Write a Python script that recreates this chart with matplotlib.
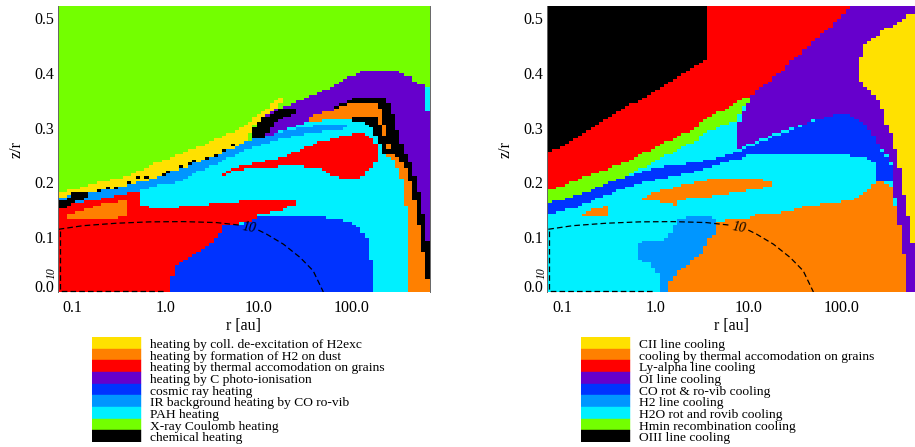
"""
Dominant heating (left) and cooling (right) process maps in r - z/r,
with the process legends underneath.
"""
import numpy as np
import matplotlib
matplotlib.use('Agg')
import matplotlib.pyplot as plt
from matplotlib.path import Path
from matplotlib.colors import ListedColormap, BoundaryNorm
from matplotlib.ticker import NullLocator
from matplotlib.transforms import ScaledTranslation

plt.rcParams['font.family'] = ['Liberation Serif', 'DejaVu Serif']

# ── process colours, same order in both legends ──
COLORS = ['#FFE100', '#FF8000', '#FF0000', '#6600CC', '#0033FF',
          '#0096FF', '#00F0FF', '#73FF00', '#000000']
YEL, ORA, RED, PUR, BLU, LBL, CYA, GRN, BLK = range(9)

heat_labels = ['heating by coll. de-excitation of H2exc',
               'heating by formation of H2 on dust',
               'heating by thermal accomodation on grains',
               'heating by C photo-ionisation',
               'cosmic ray heating',
               'IR background heating by CO ro-vib',
               'PAH heating',
               'X-ray Coulomb heating',
               'chemical heating']
cool_labels = ['CII line cooling',
               'cooling by thermal accomodation on grains',
               'Ly-alpha line cooling',
               'OI line cooling',
               'CO rot & ro-vib cooling',
               'H2 line cooling',
               'H2O rot and rovib cooling',
               'Hmin recombination cooling',
               'OIII line cooling']

ZMAX = 0.522
heat_logr_lim = (-1.157, 2.843)
cool_logr_lim = (-1.161, 2.789)

# ── heating regions, outlines in (log10 r [au], z/r) ──
heat_purple = [(1.00, 0.278), (1.09, 0.330), (1.32, 0.340), (1.56, 0.357), (1.77, 0.373),
               (1.95, 0.392), (2.17, 0.404), (2.47, 0.405), (2.63, 0.392), (2.74, 0.378),
               (2.90, 0.374), (2.90, -0.01), (1.00, -0.01)]
heat_cyan_edge = [(2.80, 0.374), (2.90, 0.374), (2.90, 0.330), (2.81, 0.330)]
heat_black_outer = [(1.81, 0.339), (1.95, 0.348), (2.09, 0.356), (2.38, 0.356), (2.44, 0.330),
                    (2.51, 0.287), (2.56, 0.257), (2.64, 0.236), (2.72, 0.190), (2.77, 0.145),
                    (2.81, 0.110), (2.83, 0.072), (2.86, 0.036), (2.90, -0.01), (1.81, -0.01)]
heat_orange_arc = [(1.56, 0.321), (1.81, 0.333), (1.99, 0.344), (2.27, 0.344), (2.33, 0.327),
                   (2.37, 0.290), (2.42, 0.257), (2.50, 0.245), (2.59, 0.224), (2.66, 0.187),
                   (2.70, 0.145), (2.75, 0.108), (2.78, 0.066), (2.80, 0.030), (2.85, 0.018),
                   (2.90, -0.01), (1.56, -0.01)]
heat_black_inner = [(2.00, 0.322), (2.13, 0.322), (2.27, 0.318), (2.33, 0.300), (2.37, 0.275),
                    (2.42, 0.250), (2.36, 0.248), (2.31, 0.270), (2.24, 0.296), (2.13, 0.310),
                    (2.00, 0.313)]
heat_cyan_disk = [(-0.28, 0.186), (-0.17, 0.205), (0.01, 0.215), (0.19, 0.227), (0.37, 0.238),
                  (0.55, 0.249), (0.73, 0.263), (0.87, 0.275), (1.09, 0.284), (1.27, 0.296),
                  (1.45, 0.306), (1.66, 0.312), (1.81, 0.318), (2.00, 0.313), (2.13, 0.310),
                  (2.24, 0.296), (2.31, 0.270), (2.36, 0.248), (2.44, 0.243), (2.53, 0.218),
                  (2.58, 0.169), (2.62, 0.108), (2.63, -0.01), (-0.28, -0.01)]
heat_yellow = [(-1.20, 0.180), (-0.89, 0.190), (-0.71, 0.201), (-0.53, 0.207), (-0.35, 0.215),
               (-0.17, 0.230), (0.01, 0.242), (0.19, 0.255), (0.37, 0.266), (0.55, 0.279),
               (0.73, 0.293), (0.91, 0.312), (1.05, 0.331), (1.16, 0.345), (1.23, 0.356),
               (1.28, 0.360), (1.28, 0.348), (1.16, 0.333), (1.05, 0.321), (0.95, 0.302),
               (0.87, 0.275), (0.73, 0.263), (0.55, 0.249), (0.37, 0.238), (0.19, 0.227),
               (0.01, 0.215), (-0.17, 0.205), (-0.35, 0.198), (-0.53, 0.190), (-0.71, 0.184),
               (-0.89, 0.180), (-1.10, 0.174), (-1.20, 0.172)]
heat_black_tip = [(0.95, 0.300), (1.05, 0.318), (1.20, 0.332), (1.38, 0.335), (1.38, 0.325),
                  (1.25, 0.315), (1.12, 0.299), (1.05, 0.278), (0.95, 0.278)]
heat_irco = [(-1.20, 0.172), (-1.10, 0.174), (-0.89, 0.180), (-0.71, 0.184), (-0.53, 0.190),
             (-0.35, 0.198), (-0.17, 0.205), (0.01, 0.215), (0.19, 0.227), (0.37, 0.238),
             (0.55, 0.249), (0.73, 0.263), (0.87, 0.275), (1.09, 0.284), (1.27, 0.294),
             (1.45, 0.300), (1.66, 0.305), (1.81, 0.307), (1.95, 0.305), (1.95, 0.300),
             (1.81, 0.295), (1.52, 0.290), (1.23, 0.278), (0.87, 0.260), (0.62, 0.239),
             (0.37, 0.221), (0.15, 0.201), (-0.10, 0.194), (-0.28, 0.184), (-0.53, 0.175),
             (-0.82, 0.166), (-1.07, 0.160), (-1.20, 0.160)]
heat_red_inner = [(-1.20, 0.160), (-1.07, 0.160), (-0.82, 0.166), (-0.53, 0.175), (-0.28, 0.184),
                  (-0.28, 0.160), (-0.10, 0.151), (0.26, 0.157), (0.84, 0.166), (1.41, 0.168),
                  (1.41, 0.162), (1.23, 0.148), (0.98, 0.142), (0.98, 0.130), (0.62, 0.121),
                  (0.59, 0.108), (0.48, 0.087), (0.37, 0.077), (0.23, 0.063), (0.12, 0.048),
                  (0.075, 0.030), (0.075, -0.01), (-1.20, -0.01)]
heat_orange_inner = [(-1.08, 0.139), (-0.92, 0.148), (-0.74, 0.158), (-0.60, 0.163),
                     (-0.40, 0.168), (-0.40, 0.136), (-1.08, 0.132)]
heat_black_rim = [(-1.20, 0.166), (-1.07, 0.166), (-0.99, 0.181), (-0.82, 0.181), (-0.82, 0.172),
                  (-0.99, 0.163), (-1.07, 0.151), (-1.20, 0.151)]
heat_red_upper = [(0.60, 0.215), (0.69, 0.224), (0.98, 0.236), (1.23, 0.245), (1.38, 0.254),
                  (1.63, 0.272), (1.81, 0.281), (2.02, 0.289), (2.13, 0.289), (2.24, 0.278),
                  (2.29, 0.263), (2.29, 0.242), (2.24, 0.230), (2.09, 0.208), (2.02, 0.205),
                  (1.77, 0.212), (1.66, 0.227), (1.38, 0.230), (0.95, 0.227), (0.69, 0.218),
                  (0.60, 0.210)]
heat_blue = [(0.59, 0.108), (0.62, 0.121), (0.95, 0.128), (0.98, 0.140), (1.59, 0.139),
             (1.95, 0.130), (2.09, 0.115), (2.17, 0.096), (2.20, 0.072), (2.23, 0.048),
             (2.23, -0.01), (0.075, -0.01), (0.075, 0.030), (0.12, 0.048), (0.23, 0.063),
             (0.37, 0.077), (0.48, 0.087)]
heat_black_dots = [(-0.71, 0.186), (-0.62, 0.191), (-0.53, 0.192), (-0.38, 0.201), (-0.28, 0.207),
                   (-0.19, 0.210), (-0.04, 0.216), (0.05, 0.220), (0.15, 0.227), (0.24, 0.233),
                   (0.33, 0.239), (0.44, 0.246), (0.53, 0.251), (0.62, 0.258), (0.73, 0.266)]

# ── cooling regions ──
cool_lya = [(-1.20, 0.53), (2.125, 0.53), (2.036, 0.508), (1.928, 0.490), (1.821, 0.475),
            (1.713, 0.460), (1.606, 0.442), (1.498, 0.427), (1.373, 0.405), (1.247, 0.387),
            (1.104, 0.369), (1.014, 0.354), (0.925, 0.351), (0.746, 0.334), (0.566, 0.318),
            (0.387, 0.296), (0.208, 0.281), (0.029, 0.266), (-0.151, 0.251), (-0.330, 0.236),
            (-0.509, 0.225), (-0.688, 0.215), (-0.867, 0.202), (-1.20, 0.182)]
cool_oiii = [(-1.20, 0.53), (0.548, 0.53), (0.548, 0.424), (0.387, 0.409), (0.208, 0.389),
             (0.029, 0.370), (-0.330, 0.335), (-0.688, 0.298), (-1.047, 0.263), (-1.20, 0.251)]
cool_oi = [(2.125, 0.53), (2.90, 0.53), (2.90, -0.01), (2.699, -0.01), (2.681, 0.060),
           (2.645, 0.102), (2.609, 0.145), (2.556, 0.193), (2.556, 0.230), (2.502, 0.248),
           (2.401, 0.266), (2.358, 0.284), (2.287, 0.299), (2.179, 0.315), (2.072, 0.325),
           (1.964, 0.325), (1.821, 0.319), (1.677, 0.312), (1.462, 0.299), (1.247, 0.287),
           (1.032, 0.272), (0.889, 0.260), (0.889, 0.305), (1.014, 0.354), (1.104, 0.369),
           (1.247, 0.387), (1.373, 0.405), (1.498, 0.427), (1.606, 0.442), (1.713, 0.460),
           (1.821, 0.475), (1.928, 0.490), (2.036, 0.508)]
cool_hmin = [(-1.20, 0.182), (-0.867, 0.202), (-0.688, 0.215), (-0.509, 0.225), (-0.330, 0.236),
             (-0.151, 0.251), (0.029, 0.266), (0.208, 0.281), (0.387, 0.296), (0.566, 0.318),
             (0.746, 0.334), (0.925, 0.351), (1.014, 0.356), (1.014, 0.349), (0.925, 0.333),
             (0.871, 0.312), (0.746, 0.305), (0.566, 0.292), (0.387, 0.272), (0.208, 0.257),
             (0.029, 0.241), (-0.151, 0.225), (-0.330, 0.210), (-0.509, 0.199), (-0.688, 0.186),
             (-0.867, 0.175), (-1.047, 0.167), (-1.20, 0.162)]
cool_co = [(-1.20, 0.162), (-1.047, 0.167), (-0.867, 0.175), (-0.688, 0.186), (-0.509, 0.199),
           (-0.330, 0.210), (-0.168, 0.218), (0.029, 0.227), (0.208, 0.232), (0.387, 0.235),
           (0.566, 0.241), (0.746, 0.248), (0.889, 0.257), (1.104, 0.272), (1.283, 0.284),
           (1.462, 0.295), (1.677, 0.310), (1.821, 0.318), (1.928, 0.324), (2.072, 0.325),
           (2.179, 0.315), (2.287, 0.301), (2.358, 0.284), (2.401, 0.266), (2.484, 0.248),
           (2.538, 0.230), (2.548, 0.202), (2.376, 0.202), (2.341, 0.242), (2.072, 0.249),
           (1.462, 0.250), (1.032, 0.251), (0.889, 0.242), (0.746, 0.236), (0.566, 0.227),
           (0.387, 0.218), (0.208, 0.212), (0.029, 0.205), (-0.115, 0.201), (-0.330, 0.190),
           (-0.509, 0.178), (-0.688, 0.166), (-0.867, 0.154), (-1.047, 0.146), (-1.20, 0.142)]
cool_grain = [(0.158, -0.01), (0.158, 0.018), (0.244, 0.036), (0.387, 0.057), (0.530, 0.077),
              (0.548, 0.096), (0.656, 0.108), (0.674, 0.128), (0.853, 0.133), (1.014, 0.133),
              (1.032, 0.140), (1.355, 0.145), (1.498, 0.151), (1.606, 0.157), (1.821, 0.161),
              (2.072, 0.166), (2.251, 0.181), (2.323, 0.193), (2.376, 0.202), (2.448, 0.202),
              (2.538, 0.193), (2.556, 0.169), (2.609, 0.145), (2.645, 0.102), (2.681, 0.060),
              (2.699, -0.01)]
cool_grain_blob = [(-0.133, 0.169), (-0.079, 0.178), (0.172, 0.190), (0.459, 0.202), (0.674, 0.208),
                   (1.032, 0.208), (1.265, 0.202), (1.247, 0.193), (1.104, 0.187), (0.817, 0.181),
                   (0.602, 0.175), (0.387, 0.171), (0.244, 0.169), (0.208, 0.159), (0.029, 0.165),
                   (-0.115, 0.166)]
cool_grain_patch = [(-0.796, 0.142), (-0.688, 0.150), (-0.527, 0.157), (-0.509, 0.139),
                    (-0.796, 0.139)]
cool_h2 = [(0.065, -0.01), (0.065, 0.018), (0.029, 0.036), (-0.079, 0.054), (-0.168, 0.057),
           (-0.186, 0.090), (-0.043, 0.093), (0.100, 0.096), (0.172, 0.108), (0.208, 0.121),
           (0.262, 0.133), (0.387, 0.139), (0.602, 0.136), (0.674, 0.128), (0.656, 0.108),
           (0.548, 0.096), (0.530, 0.077), (0.387, 0.057), (0.244, 0.036), (0.158, 0.018),
           (0.158, -0.01)]
cool_cii = [(2.90, 0.505), (2.717, 0.505), (2.645, 0.496), (2.538, 0.485), (2.430, 0.475),
            (2.341, 0.463), (2.251, 0.451), (2.222, 0.436), (2.179, 0.418), (2.179, 0.393),
            (2.251, 0.375), (2.341, 0.363), (2.412, 0.345), (2.466, 0.330), (2.473, 0.308),
            (2.538, 0.290), (2.573, 0.266), (2.609, 0.242), (2.645, 0.212), (2.681, 0.169),
            (2.717, 0.139), (2.746, 0.108), (2.771, 0.084), (2.90, 0.084)]

# painting order, outermost first
heat_layers = [(PUR, heat_purple), (CYA, heat_cyan_edge), (BLK, heat_black_outer),
               (ORA, heat_orange_arc), (BLK, heat_black_inner), (CYA, heat_cyan_disk),
               (YEL, heat_yellow), (BLK, heat_black_tip), (LBL, heat_irco),
               (RED, heat_red_inner), (ORA, heat_orange_inner), (BLK, heat_black_rim),
               (RED, heat_red_upper), (BLU, heat_blue)]
cool_layers = [(RED, cool_lya), (BLK, cool_oiii), (PUR, cool_oi), (GRN, cool_hmin),
               (BLU, cool_co), (ORA, cool_grain), (ORA, cool_grain_blob),
               (ORA, cool_grain_patch), (LBL, cool_h2), (YEL, cool_cii)]

# dashed "10" contour
contour_logr = [-1.15, -0.89, -0.53, -0.17, 0.19, 0.55, 0.80, 1.00, 1.09, 1.27, 1.45, 1.59, 1.70]
contour_zr = [0.1145, 0.121, 0.1255, 0.128, 0.1285, 0.1267, 0.122, 0.113, 0.1055, 0.0873,
              0.063, 0.0388, 0.0]
rim_logr = [-1.14, -1.14, -0.02]
rim_zr = [0.112, 0.002, 0.002]

CMAP = ListedColormap(COLORS)
NORM = BoundaryNorm(np.arange(-0.5, 9.5, 1), 9)


def paint(layers, lim, bg, nx, ny=106, dots=()):
    lr_e = np.linspace(lim[0], lim[1], nx + 1)
    z_e = np.linspace(0, ZMAX, ny + 1)
    LL, ZZ = np.meshgrid(0.5 * (lr_e[1:] + lr_e[:-1]), 0.5 * (z_e[1:] + z_e[:-1]))
    pts = np.column_stack([LL.ravel(), ZZ.ravel()])
    grid = np.full(LL.shape, bg)
    for cat, poly in layers:
        grid[Path(poly).contains_points(pts).reshape(LL.shape)] = cat
    for lr, z in dots:
        grid[np.searchsorted(z_e, z) - 1, np.searchsorted(lr_e, lr) - 1] = BLK
    return lr_e, z_e, grid


def draw_panel(ax, layers, lim, bg, nx, dots=()):
    lr_e, z_e, grid = paint(layers, lim, bg, nx, dots=dots)
    ax.pcolormesh(10 ** lr_e, z_e, grid, cmap=CMAP, norm=NORM, shading='flat',
                  antialiased=False, edgecolors='none')
    ax.set_xscale('log')
    ax.set_xlim(10 ** lim[0], 10 ** lim[1])
    ax.set_ylim(0, ZMAX)

    lr = np.array(contour_logr)
    z = np.array(contour_zr)
    for m in (lr <= 0.80, lr >= 1.00):
        ax.plot(10 ** lr[m], z[m], color='k', lw=0.9, dashes=(4.5, 2.5))
    ax.text(10 ** 0.90, 0.117, '10', fontsize=10, style='italic', rotation=-10,
            ha='center', va='center')
    ax.plot(10 ** np.array(rim_logr), rim_zr, color='k', lw=0.9, dashes=(4.5, 2.5), clip_on=False)
    ax.text(10 ** -1.225, 0.034, '10', fontsize=8.5, style='italic', rotation=90,
            ha='center', va='center', clip_on=False)

    ax.set_xticks([0.1, 1, 10, 100])
    ax.set_xticklabels(['0.1', '1.0', '10.0', '100.0'])
    ax.xaxis.set_minor_locator(NullLocator())
    yt = np.arange(0, 0.51, 0.1)
    ax.set_yticks(yt)
    ax.set_yticklabels(['%.1f' % v for v in yt])
    ax.tick_params(axis='x', length=0, labelsize=11.5, pad=6)
    ax.tick_params(axis='y', length=0, labelsize=11.5, pad=3)
    # the 0.0 label sits a little above the bottom edge
    lab0 = ax.yaxis.get_major_ticks()[0].label1
    lab0.set_transform(lab0.get_transform() + ScaledTranslation(0, 0.055, fig.dpi_scale_trans))
    ax.set_xlabel('r [au]', fontsize=11.5, labelpad=1)
    ax.set_ylabel('z/r', fontsize=11.5, labelpad=7)
    for s in ('top', 'bottom'):
        ax.spines[s].set_visible(False)
    for s in ('left', 'right'):
        ax.spines[s].set_color('#666666')
        ax.spines[s].set_linewidth(0.7)


def draw_legend(fig, x0, labels):
    lax = fig.add_axes([x0 / 915, 5 / 447, 330 / 915, 105 / 447])
    lax.set_xlim(0, 330)
    lax.set_ylim(len(labels), 0)
    lax.axis('off')
    rows = np.arange(len(labels))
    lax.barh(rows + 0.5, 49, left=0, height=1.0, color=COLORS, edgecolor=COLORS, linewidth=0.3)
    for i, t in enumerate(labels):
        lax.text(58, i + 0.95, t, fontsize=9.7, va='baseline', ha='left')


fig = plt.figure(figsize=(9.15, 4.47), dpi=100)
ax1 = fig.add_axes([58 / 915, 155 / 447, 371.5 / 915, 286 / 447])
ax2 = fig.add_axes([547.3 / 915, 155 / 447, 367.4 / 915, 286 / 447])

draw_panel(ax1, heat_layers, heat_logr_lim, GRN, 86, dots=heat_black_dots)
draw_panel(ax2, cool_layers, cool_logr_lim, CYA, 85)

draw_legend(fig, 92, heat_labels)
draw_legend(fig, 581, cool_labels)

fig.savefig('out.png', dpi=100, facecolor='white')
